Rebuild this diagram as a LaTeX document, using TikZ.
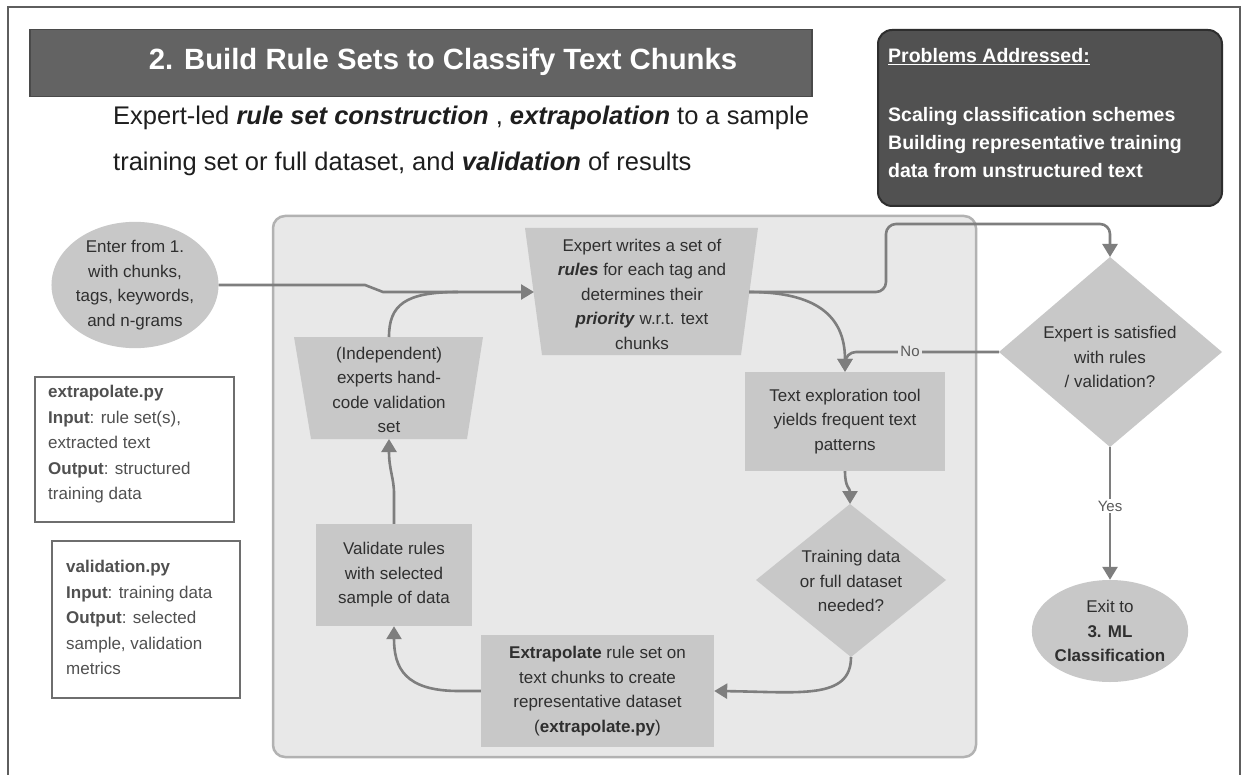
\documentclass[tikz,border=0pt]{standalone}
\usepackage{fontspec}
\setmainfont{Liberation Sans}
\usetikzlibrary{arrows.meta,shapes.geometric}
\definecolor{framec}{HTML}{5E5E5E}
\definecolor{titlefill}{HTML}{636363}
\definecolor{titleborder}{HTML}{4A4A4A}
\definecolor{probfill}{HTML}{515151}
\definecolor{probborder}{HTML}{2E2E2E}
\definecolor{contfill}{HTML}{E8E8E8}
\definecolor{contborder}{HTML}{B2B2B2}
\definecolor{nodefill}{HTML}{C8C8C8}
\definecolor{arrowc}{HTML}{7E7E7E}
\definecolor{txtdark}{HTML}{2F2F2F}
\definecolor{codeborder}{HTML}{6E6E6E}
\definecolor{codetxt}{HTML}{505050}
\definecolor{subtxt}{HTML}{1E1E1E}
\definecolor{lblgray}{HTML}{5A5A5A}
\newcommand\mynodefont{\fontsize{17}{24.5}\selectfont}
\newcommand\mycodefont{\fontsize{17}{25.5}\selectfont}
\newcommand\bi[1]{\textbf{\textit{#1}}}
\tikzset{
  proc/.style={fill=nodefill, draw=none, text=txtdark, align=center, font=\mynodefont, inner sep=0pt},
  lbl/.style={text=txtdark, align=center, font=\mynodefont, inner sep=0pt},
  conn/.style={draw=arrowc, line width=2.6pt},
  tip/.style={-{Triangle[length=13pt,width=15pt]}},
  codebox/.style={draw=codeborder, line width=2pt, fill=white, inner sep=0pt},
  codetext/.style={align=left, text=codetxt, font=\mycodefont, inner sep=0pt, anchor=west},
  edgelbl/.style={text=lblgray, font=\fontsize{15}{18}\selectfont, inner sep=2pt},
}
\begin{document}
\begin{tikzpicture}[x=1pt,y=-1pt]
\useasboundingbox (0,0) rectangle (1241,775);
\clip (0,0) rectangle (1241,775);
\fill[white] (0,0) rectangle (1241,775);
% outer frame
\draw[framec, line width=2pt] (8,790) -- (8,7) -- (1240,7) -- (1240,790);
% title bar
\node[fill=titlefill, draw=titleborder, line width=1.5pt, minimum width=782pt, minimum height=67pt, inner sep=0pt] (title) at (421,63) {};
\node[text=white, font=\bfseries\fontsize{29.3}{35}\selectfont, inner sep=0pt] (titletxt) at (443,62) {2. Build Rule Sets to Classify Text Chunks};
% problems box
\node[fill=probfill, draw=probborder, line width=2pt, rounded corners=14pt, minimum width=344pt, minimum height=176pt, inner sep=0pt] (prob) at (1050,118) {};
\node[anchor=west, text=white, font=\bfseries\fontsize{19.5}{28}\selectfont, inner sep=0pt] (probhead) at (888,57) {\underline{Problems Addressed:}};
\node[anchor=west, align=left, text=white, font=\bfseries\fontsize{19.5}{28}\selectfont, inner sep=0pt] (problist) at (888,143) {Scaling classification schemes\\Building representative training\\data from unstructured text};
% subtitle
\node[anchor=west, align=left, text=subtxt, font=\fontsize{25.5}{46}\selectfont, inner sep=0pt] (sub) at (113,141) {Expert-led \bi{rule set construction} , \bi{extrapolation} to a sample\\training set or full dataset, and \bi{validation} of results};
% container
\node[fill=contfill, draw=contborder, line width=2.5pt, rounded corners=12pt, minimum width=703pt, minimum height=541pt, inner sep=0pt] (loop) at (624.5,486.5) {};
% entry ellipse
\node[proc, ellipse, minimum width=166pt, minimum height=126pt] (entry) at (135,285) {Enter from 1.\\with chunks,\\tags, keywords,\\and n-grams};
% code boxes
\node[codebox, minimum width=199pt, minimum height=145pt] (codeA) at (134.5,449.5) {};
\node[codetext] (codeAtxt) at (48,444.5) {\textbf{extrapolate.py}\\\textbf{Input}: rule set(s),\\extracted text\\\textbf{Output}: structured\\training data};
\node[codebox, minimum width=188pt, minimum height=157pt] (codeB) at (146,619.5) {};
\node[codetext] (codeBtxt) at (66,617.5) {\textbf{validation.py}\\\textbf{Input}: training data\\\textbf{Output}: selected\\sample, validation\\metrics};
% expert trapezoid
\fill[nodefill] (525,228) -- (758,228) -- (741,355) -- (542,355) -- cycle;
\node[lbl] (expert) at (642,294) {Expert writes a set of\\\bi{rules} for each tag and\\determines their\\\bi{priority} w.r.t. text\\chunks};
\coordinate (expL) at (534,292);
\coordinate (expR) at (749,292);
% independent trapezoid
\fill[nodefill] (294,337) -- (483,337) -- (467,439) -- (311,439) -- cycle;
\node[lbl] (indep) at (389,390) {(Independent)\\experts hand-\\code validation\\set};
\coordinate (indT) at (389,337);
\coordinate (indB) at (389,439);
% boxes
\node[proc, minimum width=156pt, minimum height=102pt] (val) at (394,575) {Validate rules\\with selected\\sample of data};
\node[proc, minimum width=233pt, minimum height=112pt] (extr) at (597.5,691) {\textbf{Extrapolate} rule set on\\text chunks to create\\representative dataset\\(\textbf{extrapolate.py})};
\node[proc, minimum width=200pt, minimum height=99pt] (expl) at (845,421.5) {Text exploration tool\\yields frequent text\\patterns};
% training diamond
\coordinate (trT) at (850,504);
\coordinate (trB) at (851,657);
\coordinate (trL) at (756,580);
\coordinate (trR) at (946,580);
\fill[nodefill] (trT) -- (trR) -- (trB) -- (trL) -- cycle;
\node[lbl] (train) at (851,581) {Training data\\or full dataset\\needed?};
% satisfied diamond
\coordinate (saT) at (1110,257);
\coordinate (saB) at (1110,447);
\coordinate (saL) at (999,352);
\coordinate (saR) at (1222,352);
\fill[nodefill] (saT) -- (saR) -- (saB) -- (saL) -- cycle;
\node[lbl] (sat) at (1110,357) {Expert is satisfied\\with rules\\/ validation?};
% exit ellipse
\node[proc, ellipse, minimum width=156pt, minimum height=102pt] (exit) at (1110,631) {Exit to\\\textbf{3. ML}\\\textbf{Classification}};
% connectors
\draw[conn,tip] (entry.east) -- (365,285) -- (383,292) -- (expL);
\draw[conn] (indT) .. controls (389,305) and (405,292) .. (458,292);
\draw[conn,tip] (val.north) -- ++(0,-30) .. controls (394,478) and (389,470) .. (indB);
\draw[conn,tip] (extr.west) -- ++(-22,0) .. controls (405,691) and (394,668) .. (val.south);
\draw[conn,tip] (trB) .. controls (851,700) and (800,692) .. (extr.east);
\draw[conn,tip] (expl.south) .. controls (845,488) and (850,488) .. (trT);
\draw[conn,tip] (expR) .. controls (815,292) and (845,315) .. (expl.north);
\draw[conn,tip,rounded corners=11pt] (saL) -| (expl.north);
\draw[conn,tip,rounded corners=10pt] (expR) -- (886,292) -- (886,224) -- (1110,224) -- (saT);
\draw[conn,tip] (saB) -- (exit.north);
% edge labels
\node[edgelbl, fill=contfill] (nolbl) at (910,351) {No};
\node[edgelbl, fill=white] (yeslbl) at (1110,506) {Yes};
\end{tikzpicture}
\end{document}
